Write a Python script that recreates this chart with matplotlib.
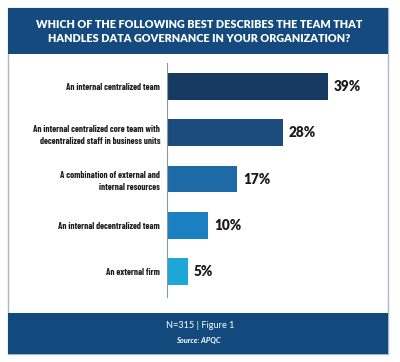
import matplotlib
matplotlib.use("Agg")
import matplotlib.pyplot as plt
from matplotlib.patches import Rectangle

categories = [
    "An internal centralized team",
    "An internal centralized core team with\ndecentralized staff in business units",
    "A combination of external and\ninternal resources",
    "An internal decentralized team",
    "An external firm",
]
values = [39, 28, 17, 10, 5]
value_labels = ["39%", "28%", "17%", "10%", "5%"]
colors = ["#163a61", "#1b4c7d", "#1d6aa6", "#1a80c1", "#1ca7d7"]
title = "WHICH OF THE FOLLOWING BEST DESCRIBES THE TEAM THAT\nHANDLES DATA GOVERNANCE IN YOUR ORGANIZATION?"
footer1 = "N=315 | Figure 1"
footer2 = "Source: APQC"

HEAD = ["Lato", "DejaVu Sans"]
COND = ["Barlow Condensed", "DejaVu Sans"]

W, H = 400, 362
fig = plt.figure(figsize=(W / 100, H / 100), dpi=100)
fig.patch.set_facecolor("white")

def fx(x):
    return x / W

def fy(y):
    return 1 - y / H

fig.patches.append(Rectangle((fx(8), fy(354)), fx(380), 346 / H, transform=fig.transFigure,
                             facecolor="white", edgecolor="#aab8c9", linewidth=1.0, zorder=-2))
fig.patches.append(Rectangle((fx(8), fy(54)), fx(380), 46 / H, transform=fig.transFigure,
                             facecolor="#154a7e", edgecolor="none", zorder=-1))
fig.patches.append(Rectangle((fx(8), fy(354)), fx(380), 41 / H, transform=fig.transFigure,
                             facecolor="#134a7e", edgecolor="none", zorder=-1))

fig.text(fx(199), fy(31.5), title, ha="center", va="center", color="white",
         fontsize=7.8, fontweight="heavy", family=HEAD, linespacing=1.35, zorder=3)
fig.text(fx(200), fy(326), footer1, ha="center", va="center", color="white",
         fontsize=6.6, family=HEAD, zorder=3)
fig.text(fx(198), fy(341), footer2, ha="center", va="center", color="white",
         fontsize=5.4, fontweight="bold", style="italic", family=HEAD, zorder=3)

ax = fig.add_axes([fx(167), 1 - 297 / H, 186 / W, (297 - 63) / H])
ax.set_zorder(2)
ax.set_facecolor("none")
y = list(range(len(categories)))
ax.barh(y, values, height=0.58, color=colors, zorder=2)
ax.set_xlim(0, 45)
ax.set_ylim(4.55, -0.51)
for yi, v, lab in zip(y, values, value_labels):
    ax.text(v + 1.4, yi, lab, ha="left", va="center", fontsize=9.8, fontweight="heavy",
            color="#1a1a1a", family=HEAD)
ax.set_yticks(y)
ax.set_yticklabels(categories, fontsize=6.6, family=COND,
                   fontweight="bold", color="#1e1e1e", linespacing=1.4)
ax.tick_params(axis="y", length=0, pad=5)
ax.set_xticks([])
for s in ["top", "right", "bottom"]:
    ax.spines[s].set_visible(False)
ax.spines["left"].set_color("#8a96a3")
ax.spines["left"].set_linewidth(0.8)
for t in ax.get_yticklabels():
    t.set_multialignment("right")

fig.savefig("out.png", dpi=100)
